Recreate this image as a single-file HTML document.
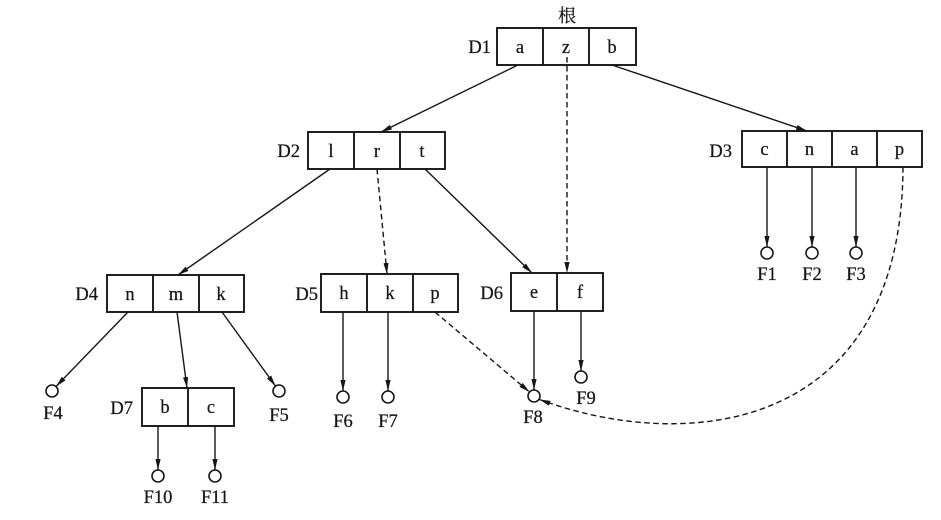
<!DOCTYPE html>
<html>
<head>
<meta charset="utf-8">
<style>
  html, body { margin:0; padding:0; background:#ffffff; }
  svg { display:block; }
  text { font-family: "Liberation Serif", "Noto Serif CJK SC", serif; font-size:18.5px; fill:#161616; stroke:#161616; stroke-width:0.25px; }
  .cjk { font-family: "Noto Serif CJK SC", "Noto Sans CJK SC", serif; font-size:18px; }
</style>
</head>
<body>
<svg width="941" height="520" viewBox="0 0 941 520" xmlns="http://www.w3.org/2000/svg">
  <defs>
    <marker id="ah" markerUnits="userSpaceOnUse" markerWidth="11" markerHeight="7" viewBox="0 0 11 7" refX="11" refY="3.5" orient="auto">
      <path d="M0,0.9 L11,3.5 L0,6.1 z" fill="#161616"/>
    </marker>
  </defs>
  <rect x="0" y="0" width="941" height="520" fill="#ffffff"/>

  <g fill="none" stroke="#161616" stroke-width="1.9">
    <!-- D1 -->
    <rect x="497" y="28" width="139" height="37"/>
    <line x1="543" y1="28" x2="543" y2="65"/>
    <line x1="589" y1="28" x2="589" y2="65"/>
    <!-- D2 -->
    <rect x="308" y="132" width="137" height="37"/>
    <line x1="354" y1="132" x2="354" y2="169"/>
    <line x1="400" y1="132" x2="400" y2="169"/>
    <!-- D3 -->
    <rect x="742" y="131" width="180" height="36"/>
    <line x1="787" y1="131" x2="787" y2="167"/>
    <line x1="832" y1="131" x2="832" y2="167"/>
    <line x1="877" y1="131" x2="877" y2="167"/>
    <!-- D4 -->
    <rect x="107" y="275" width="137" height="37"/>
    <line x1="153" y1="275" x2="153" y2="312"/>
    <line x1="199" y1="275" x2="199" y2="312"/>
    <!-- D5 -->
    <rect x="321" y="274" width="137" height="38"/>
    <line x1="367" y1="274" x2="367" y2="312"/>
    <line x1="413" y1="274" x2="413" y2="312"/>
    <!-- D6 -->
    <rect x="511" y="273" width="92" height="38"/>
    <line x1="557" y1="273" x2="557" y2="311"/>
    <!-- D7 -->
    <rect x="142" y="388" width="92" height="38"/>
    <line x1="188" y1="388" x2="188" y2="426"/>
  </g>

  <!-- circles -->
  <g fill="#ffffff" stroke="#161616" stroke-width="1.6">
    <circle cx="767" cy="253" r="6"/>
    <circle cx="812" cy="253" r="6"/>
    <circle cx="856" cy="253" r="6"/>
    <circle cx="52" cy="391" r="6"/>
    <circle cx="279" cy="391" r="6"/>
    <circle cx="343" cy="397" r="6"/>
    <circle cx="388" cy="397" r="6"/>
    <circle cx="534" cy="396" r="6"/>
    <circle cx="581" cy="377" r="6"/>
    <circle cx="158" cy="476" r="6"/>
    <circle cx="215" cy="476" r="6"/>
  </g>

  <!-- solid connectors -->
  <g fill="none" stroke="#161616" stroke-width="1.4" marker-end="url(#ah)">
    <line x1="518" y1="65" x2="381" y2="132"/>
    <line x1="612" y1="65" x2="807" y2="131"/>
    <line x1="330" y1="169" x2="178" y2="275"/>
    <line x1="425" y1="169" x2="532" y2="273"/>
    <line x1="128" y1="312" x2="56" y2="386.5"/>
    <line x1="177" y1="312" x2="187" y2="388"/>
    <line x1="222" y1="312" x2="275.5" y2="386"/>
    <line x1="158" y1="426" x2="158" y2="470"/>
    <line x1="215" y1="426" x2="215" y2="470"/>
    <line x1="343" y1="312" x2="343" y2="391"/>
    <line x1="388" y1="312" x2="388" y2="391"/>
    <line x1="534" y1="311" x2="534" y2="390"/>
    <line x1="581" y1="311" x2="581" y2="371"/>
    <line x1="767" y1="167" x2="767" y2="247"/>
    <line x1="812" y1="167" x2="812" y2="247"/>
    <line x1="856" y1="167" x2="856" y2="247"/>
  </g>

  <!-- dashed connectors -->
  <g fill="none" stroke="#161616" stroke-width="1.4" stroke-dasharray="5.5,3.5" marker-end="url(#ah)">
    <line x1="567" y1="57" x2="567" y2="273"/>
    <line x1="377" y1="169" x2="387" y2="274"/>
    <line x1="435" y1="312" x2="529.5" y2="392"/>
    <path d="M903,167 C902,430 690,455 539.5,399.5"/>
  </g>

  <!-- cell letters -->
  <g text-anchor="middle">
    <text x="520" y="53">a</text>
    <text x="566" y="53">z</text>
    <text x="612" y="53">b</text>

    <text x="331" y="157">l</text>
    <text x="377" y="157">r</text>
    <text x="422" y="157">t</text>

    <text x="764.5" y="155">c</text>
    <text x="809.5" y="155">n</text>
    <text x="854.5" y="155">a</text>
    <text x="899.5" y="155">p</text>

    <text x="130" y="300">n</text>
    <text x="176" y="300">m</text>
    <text x="221" y="300">k</text>

    <text x="344" y="299">h</text>
    <text x="390" y="299">k</text>
    <text x="435" y="299">p</text>

    <text x="534" y="298">e</text>
    <text x="580" y="298">f</text>

    <text x="165" y="413">b</text>
    <text x="211" y="413">c</text>

    <!-- F labels -->
    <text x="767" y="280">F1</text>
    <text x="812" y="280">F2</text>
    <text x="856" y="280">F3</text>
    <text x="53" y="419">F4</text>
    <text x="279" y="421">F5</text>
    <text x="343" y="427">F6</text>
    <text x="388" y="427">F7</text>
    <text x="533" y="423">F8</text>
    <text x="586" y="404">F9</text>
    <text x="158" y="503">F10</text>
    <text x="215" y="503">F11</text>
  </g>

  <!-- node labels -->
  <g text-anchor="end">
    <text x="491" y="53">D1</text>
    <text x="300" y="157">D2</text>
    <text x="732" y="157">D3</text>
    <text x="98" y="300">D4</text>
    <text x="318" y="300">D5</text>
    <text x="503" y="299">D6</text>
    <text x="133" y="414">D7</text>
  </g>

  <text class="cjk" x="567" y="22" text-anchor="middle">根</text>
</svg>
</body>
</html>
